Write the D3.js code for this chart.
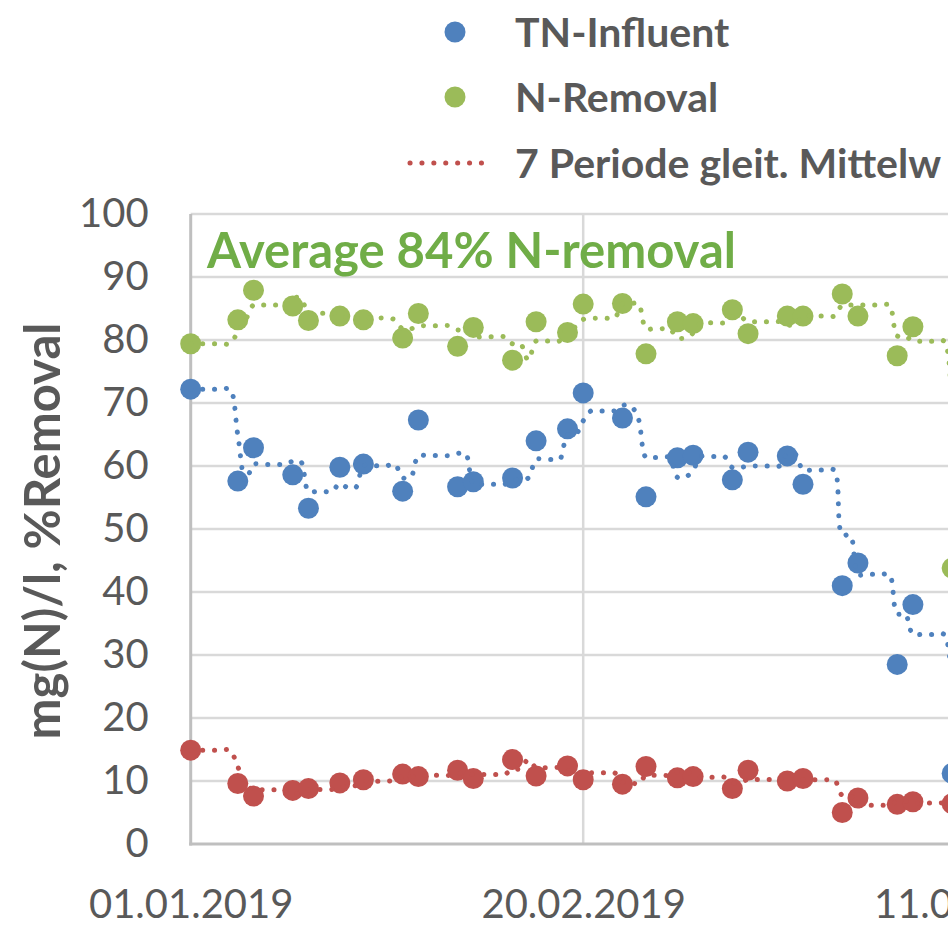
<!DOCTYPE html>
<html><head><meta charset="utf-8">
<script src="https://cdn.jsdelivr.net/npm/d3@7"></script>
<style>
html,body{margin:0;padding:0;background:#fff;overflow:hidden}
text{font-family:Lato,"Open Sans",sans-serif}
</style></head>
<body>
<svg id="c" width="948" height="929"></svg>
<script>
// ---- data ----
const dates = ["2019-01-01","2019-01-07","2019-01-09","2019-01-14","2019-01-16","2019-01-20","2019-01-23",
  "2019-01-28","2019-01-30","2019-02-04","2019-02-06","2019-02-11","2019-02-14","2019-02-18","2019-02-20",
  "2019-02-25","2019-02-28","2019-03-04","2019-03-06","2019-03-11","2019-03-13","2019-03-18","2019-03-20",
  "2019-03-25","2019-03-27","2019-04-01","2019-04-03","2019-04-08"];
const tnInfluent = [72.2,57.6,62.9,58.6,53.3,59.8,60.3,56.0,67.3,56.7,57.5,58.1,64.0,65.9,71.6,
  67.6,55.1,61.3,61.7,57.8,62.2,61.6,57.1,41.0,44.6,28.5,38.0,11.2];
const nRemoval = [79.4,83.2,87.9,85.4,83.1,83.8,83.2,80.3,84.2,79.0,82.0,76.8,82.9,81.2,85.7,
  85.8,77.8,82.9,82.6,84.8,81.0,83.8,83.8,87.3,83.8,77.5,82.1,43.8];
const tnEffluent = [14.9,9.6,7.6,8.5,8.8,9.7,10.2,11.1,10.7,11.7,10.4,13.4,10.8,12.4,10.2,
  9.5,12.3,10.5,10.7,8.8,11.7,10.0,10.4,5.0,7.3,6.3,6.7,6.4];
const yTicks = [0,10,20,30,40,50,60,70,80,90,100];
const xTickLabels = ["2019-01-01","2019-02-20","2019-04-11"];
const legendLabels = ["TN-Influent","N-Removal","7 Periode gleit. Mittelw"];
const maPeriod = 7;

const colors = {blue:"#4f81bd", green:"#9bbb59", red:"#c0504d"};

const parse = d3.utcParse("%Y-%m-%d");
const fmt = d3.utcFormat("%d.%m.%Y");
const svg = d3.select("#c");

const x = d3.scaleUtc().domain([parse("2019-01-01"), parse("2019-04-11")]).range([190.7, 975.7]);
const y = d3.scaleLinear().domain([0,100]).range([844, 214]);

// gridlines
svg.append("g").selectAll("line").data(yTicks.filter(d=>d>0)).join("line")
  .attr("x1", x.range()[0]).attr("x2", 948).attr("y1", d=>y(d)).attr("y2", d=>y(d))
  .attr("stroke","#d9d9d9").attr("stroke-width",2.5);
svg.append("g").selectAll("line").data(xTickLabels.slice(1).map(parse)).join("line")
  .attr("x1", d=>x(d)).attr("x2", d=>x(d)).attr("y1", y(100)).attr("y2", y(0))
  .attr("stroke","#d9d9d9").attr("stroke-width",2.5);

// axes lines
svg.append("line").attr("x1",x.range()[0]).attr("x2",x.range()[0]).attr("y1",y(100)).attr("y2",y(0)+1.5)
  .attr("stroke","#bfbfbf").attr("stroke-width",3);
svg.append("line").attr("x1",x.range()[0]-1.5).attr("x2",948).attr("y1",y(0)).attr("y2",y(0))
  .attr("stroke","#bfbfbf").attr("stroke-width",3);

// y axis labels
const yAx = svg.append("g").attr("transform",`translate(${x.range()[0]},0)`)
  .call(d3.axisLeft(y).tickValues(yTicks).tickSize(0).tickPadding(42));
yAx.select(".domain").remove();
yAx.selectAll("text").attr("font-size",40).attr("fill","#595959").attr("font-family","Lato");

// x axis labels
const xAx = svg.append("g").attr("transform",`translate(0,${y(0)})`)
  .call(d3.axisBottom(x).tickValues(xTickLabels.map(parse)).tickFormat(fmt).tickSize(0));
xAx.select(".domain").remove();
xAx.selectAll("text").attr("font-size",40).attr("fill","#595959").attr("font-family","Lato")
  .attr("y",74).attr("dy",0);

// y title
svg.append("text").attr("transform","translate(60,531) rotate(-90)")
  .attr("text-anchor","middle").attr("font-size",49).attr("font-weight","bold").attr("fill","#595959")
  .text("mg(N)/l, %Removal");

// annotation
svg.append("text").attr("x",207).attr("y",268).attr("font-size",49).attr("font-weight","bold")
  .attr("fill","#70ad47").text("Average 84% N-removal");

// series
const series = [
  {vals:tnInfluent, color:colors.blue},
  {vals:nRemoval, color:colors.green},
  {vals:tnEffluent, color:colors.red}
];
const day0 = parse(dates[0]);
const dayOf = d => Math.round((parse(d)-day0)/864e5);

series.forEach(s=>{
  svg.append("g").selectAll("circle").data(dates.map((d,i)=>({d:parse(d), v:s.vals[i]}))).join("circle")
    .attr("cx",p=>x(p.d)).attr("cy",p=>y(p.v)).attr("r",10.5).attr("fill",s.color);
});

// 7-period moving-average trendlines (trailing window of the series values)
const lastDay = dayOf(dates[dates.length-1]);
series.forEach(s=>{
  const pts = [];
  for(let t=0;t<=lastDay;t++){
    const w = dates.map((d,i)=>({k:dayOf(d), v:s.vals[i]})).filter(o=>o.k<=t && o.k>t-maPeriod);
    if(w.length) pts.push({d:d3.utcDay.offset(day0,t), v:d3.mean(w,o=>o.v)});
  }
  svg.append("path").datum(pts)
    .attr("d", d3.line().x(p=>x(p.d)).y(p=>y(p.v)).curve(d3.curveCatmullRom.alpha(0.5)))
    .attr("fill","none").attr("stroke",s.color).attr("stroke-width",5)
    .attr("stroke-linecap","round").attr("stroke-dasharray","0.1 11.8");
});

// legend
const lg = svg.append("g");
lg.append("circle").attr("cx",455).attr("cy",32).attr("r",10.5).attr("fill",colors.blue);
lg.append("circle").attr("cx",455).attr("cy",97).attr("r",10.5).attr("fill",colors.green);
lg.append("line").attr("x1",410).attr("x2",493).attr("y1",163).attr("y2",163)
  .attr("stroke",colors.red).attr("stroke-width",5).attr("stroke-linecap","round").attr("stroke-dasharray","0.1 11.8");
lg.selectAll("text").data(legendLabels).join("text")
  .attr("x",515).attr("y",(d,i)=>32+i*65.5).attr("dy","0.36em")
  .attr("font-size",41).attr("font-weight","bold").attr("fill","#595959").text(d=>d);
</script>
</body></html>
